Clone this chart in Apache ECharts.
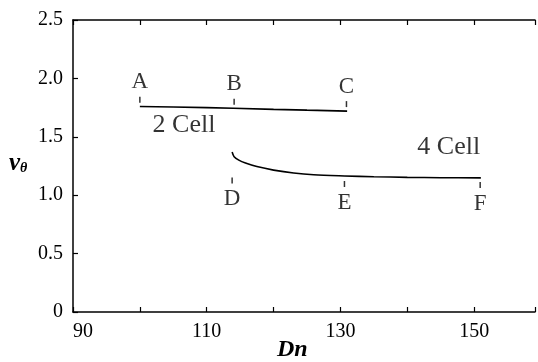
<!DOCTYPE html>
<html>
<head>
<meta charset="utf-8">
<style>
  html, body { margin: 0; padding: 0; background: #fff; }
  #chart { width: 538px; height: 362px; }
</style>
<script src="https://cdn.jsdelivr.net/npm/echarts@6/dist/echarts.min.js"></script>
</head>
<body>
<div id="chart"></div>
<script>
// Two-cell branch (A–C) and four-cell branch (D–F): Dn vs v_theta
const twoCellDn = [100, 105, 110, 114, 120, 125, 131];
const twoCellV  = [1.76, 1.755, 1.75, 1.745, 1.735, 1.728, 1.72];

const fourCellDn = [113.8, 114.1, 114.8, 115.8, 117.5, 120, 123, 126, 130.6, 135, 140, 145, 151];
const fourCellV  = [1.37, 1.33, 1.30, 1.275, 1.245, 1.215, 1.19, 1.175, 1.165, 1.158, 1.153, 1.15, 1.148];

// Marked states along the branches
const markNames = ['A', 'B', 'C', 'D', 'E', 'F'];
const markDn    = [100, 114.1, 130.9, 113.8, 130.6, 150.9];
const markV     = [1.818, 1.80, 1.78, 1.126, 1.096, 1.087];

// Branch labels
const branchNames = ['2 Cell', '4 Cell'];
const branchDn    = [106.6, 146.2];
const branchV     = [1.596, 1.408];

// Axis ticks
const xTickLabels = [90, 110, 130, 150];
const yTickLabels = ['0', '0.5', '1.0', '1.5', '2.0', '2.5'];

const FONT = "'Liberation Serif', 'Times New Roman', serif";
const INK = '#000';

const chart = echarts.init(document.getElementById('chart'), null, { renderer: 'canvas' });

// x range is cut at the right edge of the canvas
const xBase = {
  type: 'value', min: 90, max: 159.1, interval: 10,
  axisLine: { show: true, lineStyle: { color: INK, width: 1.5 } },
  axisTick: { show: true, inside: true, length: 5, lineStyle: { color: INK, width: 1.2 } },
  splitLine: { show: false }
};

const option = {
  animation: false,
  backgroundColor: '#fff',
  grid: { left: 73, top: 20, right: 0, bottom: 50 },
  xAxis: [
    Object.assign({}, xBase, {
      position: 'bottom',
      axisLabel: {
        show: true, margin: 10, fontSize: 20, alignMinLabel: 'left',
        color: INK, fontFamily: FONT,
        formatter: v => (xTickLabels.indexOf(v) >= 0 ? String(v) : '')
      }
    }),
    Object.assign({}, xBase, { position: 'top', axisLabel: { show: false } })
  ],
  yAxis: {
    type: 'value', min: 0, max: 2.5, interval: 0.5,
    axisLine: { show: true, lineStyle: { color: INK, width: 1.5 } },
    axisTick: { show: true, inside: true, length: 5, lineStyle: { color: INK, width: 1.2 } },
    splitLine: { show: false },
    axisLabel: {
      margin: 10, fontSize: 20, color: INK, fontFamily: FONT,
      formatter: (v, i) => yTickLabels[i]
    }
  },
  graphic: [
    {
      type: 'text', left: 277, top: 338,
      style: { text: 'Dn', font: "italic bold 24px 'Liberation Serif', serif", fill: INK }
    },
    {
      type: 'text', left: 9, top: 151,
      style: {
        text: '{v|v}{s|θ}',
        rich: {
          v: { font: "italic bold 25px 'Liberation Serif', serif", fill: INK },
          s: { font: "italic bold 14px 'Liberation Serif', serif", fill: INK, padding: [9, 0, 0, 0] }
        }
      }
    }
  ],
  series: [
    {
      type: 'line', name: '2 Cell', showSymbol: false,
      data: twoCellDn.map((d, i) => [d, twoCellV[i]]),
      lineStyle: { color: INK, width: 1.6 }
    },
    {
      type: 'line', name: '4 Cell', showSymbol: false, smooth: 0.3,
      data: fourCellDn.map((d, i) => [d, fourCellV[i]]),
      lineStyle: { color: INK, width: 1.6 }
    },
    {
      type: 'scatter', name: 'states',
      symbol: 'rect', symbolSize: [1.5, 6],
      itemStyle: { color: INK },
      data: markNames.map((n, i) => ({
        value: [markDn[i], markV[i]], name: n,
        label: { position: i < 3 ? 'top' : 'bottom', distance: i < 3 ? 3 : 4 }
      })),
      label: {
        show: true, formatter: p => p.name, fontSize: 23,
        color: INK, fontFamily: FONT
      }
    },
    {
      type: 'scatter', name: 'branches',
      symbolSize: 0,
      data: branchNames.map((n, i) => ({ value: [branchDn[i], branchV[i]], name: n })),
      label: {
        show: true, position: 'inside', formatter: p => p.name, fontSize: 26,
        color: INK, fontFamily: FONT
      }
    }
  ]
};

chart.setOption(option);
</script>
</body>
</html>
